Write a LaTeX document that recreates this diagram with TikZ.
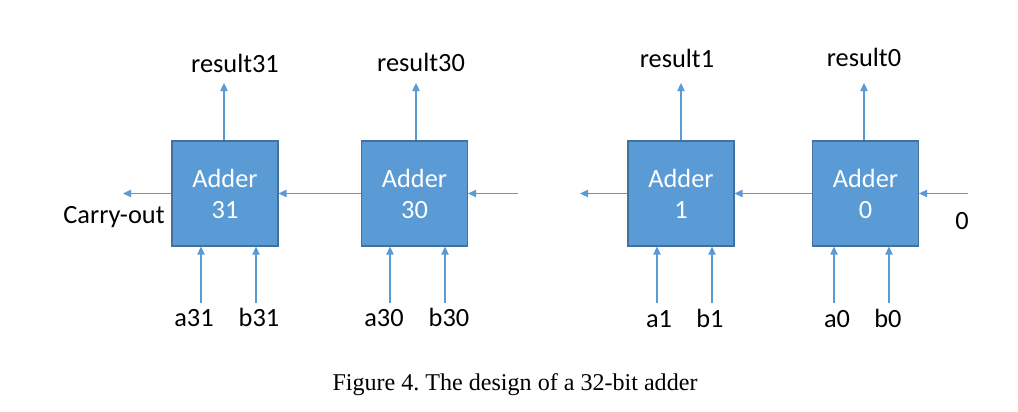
\documentclass[tikz,border=0pt]{standalone}
\usepackage{fontspec}
\setmainfont{Carlito}
\newfontfamily\captionfont{Liberation Serif}
\usetikzlibrary{arrows.meta}
\definecolor{adderfill}{HTML}{5B9BD5}
\definecolor{adderline}{HTML}{41719C}
\frenchspacing
\tikzset{
  adder/.style={draw=adderline, line width=0.6pt, fill=adderfill, text=white, align=center,
    minimum width=2.12cm, minimum height=2.1cm, font=\fontsize{15}{17.6}\selectfont},
  signal/.style={anchor=base, inner sep=0pt, font=\fontsize{15}{17.6}\selectfont},
  wire/.style={draw=adderfill, line width=0.7pt, -{Triangle[length=4.6pt,width=4.2pt]}}
}
\begin{document}
\begin{tikzpicture}[x=0.02cm, y=-0.02cm]
\useasboundingbox (0,0) rectangle (1018,412);
% the four adder cells
\node[adder] (add31) at (225,193.5) {Adder\\31};
\node[adder] (add30) at (414.5,193.5) {Adder\\30};
\node[adder] (add1) at (681,193.5) {Adder\\1};
\node[adder] (add0) at (865.5,193.5) {Adder\\0};
% free ends of the wires
\coordinate (cout31) at (123,193.5);
\coordinate (cin30) at (518,193.5);
\coordinate (cout1) at (580,193.5);
\coordinate (cin0) at (968,193.5);
\coordinate (res31) at (224,83);
\coordinate (res30) at (416,83);
\coordinate (res1) at (681,83);
\coordinate (res0) at (864,83);
\coordinate (in31a) at (201,303);
\coordinate (in31b) at (256,303);
\coordinate (in30a) at (390,303);
\coordinate (in30b) at (445,303);
\coordinate (in1a) at (657,303);
\coordinate (in1b) at (712,303);
\coordinate (in0a) at (834,303);
\coordinate (in0b) at (889,303);
% labels
\node[signal] (carry) at (114,223) {Carry-out};
\node[signal] (zero) at (962,229) {0};
\node[signal] (r31) at (235,73) {result31};
\node[signal] (r30) at (421,72) {result30};
\node[signal] (r1) at (677,68) {result1};
\node[signal] (r0) at (864,67) {result0};
\node[signal] (a31) at (194,326) {a31};
\node[signal] (b31) at (259,326) {b31};
\node[signal] (a30) at (384,326) {a30};
\node[signal] (b30) at (449,326) {b30};
\node[signal] (a1) at (659,327) {a1};
\node[signal] (b1) at (710,327) {b1};
\node[signal] (a0) at (837,327) {a0};
\node[signal] (b0) at (888,327) {b0};
\node[anchor=base, font=\captionfont\fontsize{13.7}{16}\selectfont] (caption) at (515,390)
  {Figure 4. The design of a 32-bit adder};
% carry chain
\draw[wire] (add31.west) -- (cout31);
\draw[wire] (add30.west) -- (add31.east);
\draw[wire] (cin30) -- (add30.east);
\draw[wire] (add1.west) -- (cout1);
\draw[wire] (add0.west) -- (add1.east);
\draw[wire] (cin0) -- (add0.east);
% results
\draw[wire] (add31.north -| res31) -- (res31);
\draw[wire] (add30.north -| res30) -- (res30);
\draw[wire] (add1.north -| res1) -- (res1);
\draw[wire] (add0.north -| res0) -- (res0);
% operands
\draw[wire] (in31a) -- (in31a |- add31.south);
\draw[wire] (in31b) -- (in31b |- add31.south);
\draw[wire] (in30a) -- (in30a |- add30.south);
\draw[wire] (in30b) -- (in30b |- add30.south);
\draw[wire] (in1a) -- (in1a |- add1.south);
\draw[wire] (in1b) -- (in1b |- add1.south);
\draw[wire] (in0a) -- (in0a |- add0.south);
\draw[wire] (in0b) -- (in0b |- add0.south);
\end{tikzpicture}
\end{document}
